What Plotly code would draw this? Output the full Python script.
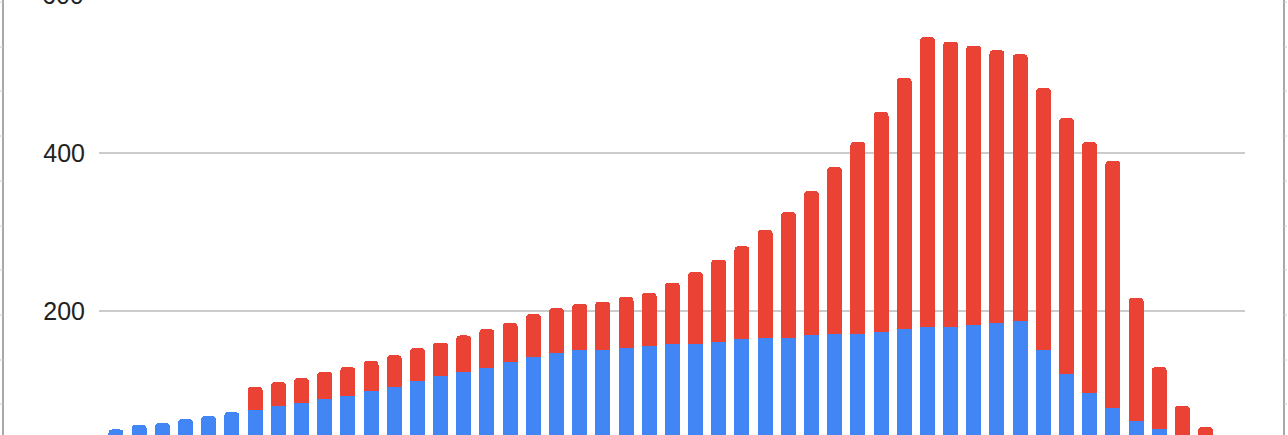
import plotly.graph_objects as go

# Data (stacked: blue base + red on top)
categories = list(range(48))
blue_values = [50, 56, 58, 63, 67, 72, 75, 80, 83, 88, 93, 99, 104, 112, 118, 123,
               128, 135, 142, 147, 150, 150, 153, 156, 158, 158, 161, 164, 166, 166,
               169, 171, 171, 174, 177, 180, 180, 182, 185, 187, 150, 120, 96, 77,
               61, 50, 38, 25]
red_values = [0, 0, 0, 0, 0, 0, 29, 30, 32, 35, 36, 38, 40, 41, 42, 46,
              49, 50, 54, 57, 59, 62, 65, 67, 78, 91, 104, 118, 137, 159,
              183, 211, 243, 278, 318, 367, 361, 354, 345, 338, 332, 324, 318, 313,
              156, 79, 42, 28]
y_tick_values = [200, 400]
y_tick_labels = ["200", "400"]
top_label_value = 600

BLUE = "#4285F4"
RED = "#EA4335"
W, H = 1288, 435
L, R = 99, 43
Y_RANGE = [43.0, 593.7]

fig = go.Figure()
fig.add_trace(go.Bar(x=categories, y=blue_values, marker=dict(color=BLUE, line=dict(width=0)),
                     name="blue"))
fig.add_trace(go.Bar(x=categories, y=red_values, marker=dict(color=RED, line=dict(width=0)),
                     name="red"))

font = dict(family="Liberation Sans, Arial, sans-serif", size=25, color="#222222")

fig.update_layout(
    width=W, height=H,
    margin=dict(l=L, r=R, t=0, b=0, pad=0),
    paper_bgcolor="white", plot_bgcolor="white",
    barmode="stack", bargap=0.353, barcornerradius=4,
    showlegend=False,
    xaxis=dict(range=[-0.733, 48.70], showgrid=False, zeroline=False,
               showticklabels=False, ticks="", showline=False),
    yaxis=dict(range=Y_RANGE, tickvals=y_tick_values, ticktext=y_tick_labels,
               showgrid=True, gridcolor="#cccccc", gridwidth=2, zeroline=False,
               showline=False, ticks="", tickfont=font, ticklabelstandoff=13),
    font=font,
)

# partially visible top label (just above the visible plot area)
top_paper_y = (top_label_value - Y_RANGE[0]) / (Y_RANGE[1] - Y_RANGE[0])
fig.add_annotation(x=0, xref="paper", y=top_paper_y, yref="paper", text=str(top_label_value),
                   showarrow=False, xanchor="right", yanchor="middle", xshift=-13,
                   font=font)

# outer frame lines with small ruler ticks
plot_w = W - L - R
def px_to_paper_x(px):
    return (px - L) / plot_w
def py_to_paper_y(py):
    return 1 - py / H

frame_color = "#a8a8a8"
for fx, direction in [(3, -1), (1284, 1)]:
    fig.add_shape(type="line", xref="paper", yref="paper",
                  x0=px_to_paper_x(fx), x1=px_to_paper_x(fx), y0=0, y1=1,
                  line=dict(color=frame_color, width=2))
    for ty in [2, 47, 91, 136, 181, 226, 270, 315, 360, 404]:
        fig.add_shape(type="line", xref="paper", yref="paper",
                      x0=px_to_paper_x(fx), x1=px_to_paper_x(fx + direction * 3),
                      y0=py_to_paper_y(ty), y1=py_to_paper_y(ty),
                      line=dict(color="#cfcfcf", width=1))

fig.write_html("out.html", config={"displayModeBar": False},
               post_script="document.body.style.margin='0';document.body.style.overflow='hidden';")
